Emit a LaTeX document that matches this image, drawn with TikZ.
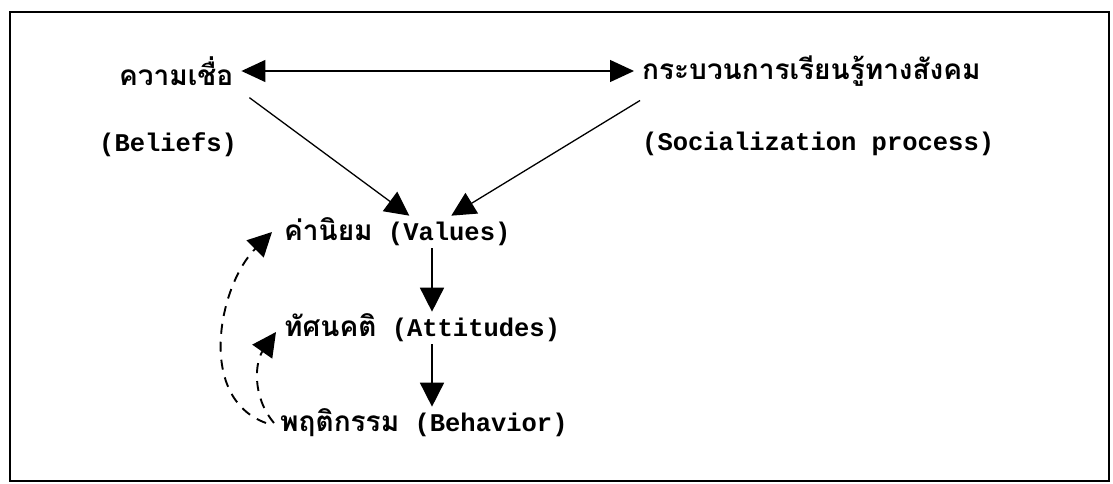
\documentclass[tikz,border=0pt]{standalone}
\usepackage{fontspec}
\setmonofont{Liberation Mono}
\newfontfamily\thaifont[Script=Thai]{Loma}
\usetikzlibrary{arrows.meta, positioning}
\newcommand{\thtext}[1]{{\thaifont\bfseries\fontsize{28}{32}\selectfont #1}}
\newcommand{\entext}[1]{{\ttfamily\bfseries\fontsize{25.5}{30}\selectfont #1}}
\tikzstyle{label} = [inner sep=2pt, anchor=west]
\tikzstyle{arrow} = [line width=1.6pt, -{Triangle[length=24pt,width=24pt]}]
\tikzstyle{back} = [arrow, line width=1.9pt, dash pattern=on 10pt off 8pt]

\begin{document}
\begin{tikzpicture}[x=1pt, y=1pt, node distance=95pt]
    \useasboundingbox (0,0) rectangle (1113,-484);
    \draw [line width=1.6pt] (10,-12) rectangle (1109,-481);

    % top row
    \node (belief) [label] at (117,-71) {\thtext{ความเชื่อ}};
    \node (beliefEn) [label] at (97,-145) {\entext{(Beliefs)}};
    \node (social) [label] at (640,-71) {\thtext{กระบวนการเรียนรู้ทางสังคม}};
    \node (socialEn) [label] at (640,-144) {\entext{(Socialization process)}};

    % main column
    \node (values) [label] at (282,-232) {\thtext{ค่านิยม}\entext{ (Values)}};
    \node (attitudes) [label, below=96pt of values.west, anchor=west] {\thtext{ทัศนคติ}\entext{ (Attitudes)}};
    \node (behavior) [label, below=95pt of attitudes.west, anchor=west, xshift=-4pt] {\thtext{พฤติกรรม}\entext{ (Behavior)}};
    \coordinate (vline) at (432,0);

    \draw [arrow, line width=1.3pt, {Triangle[length=24pt,width=22pt]}-{Triangle[length=24pt,width=22pt]}, shorten <=6pt, shorten >=6pt] (belief.east) -- (social.west);
    \draw [arrow, line width=1.3pt] ([xshift=14pt,yshift=-10pt]belief.south east) -- ([xshift=12pt]values.north);
    \draw [arrow, line width=1.3pt] ([yshift=-12pt]social.south west) -- ([xshift=54pt]values.north);

    \foreach \i/\j in {values/attitudes, attitudes/behavior} {
        \draw [arrow] (\i.south -| vline) -- (\j.north -| vline);
    }

    \draw [back] ([xshift=-12pt]behavior.west) to[out=160, in=225] ([xshift=-10pt]values.west);
    \draw [back] ([xshift=-4pt]behavior.west) to[out=130, in=235] ([xshift=-6pt,yshift=-4pt]attitudes.west);
\end{tikzpicture}
\end{document}
